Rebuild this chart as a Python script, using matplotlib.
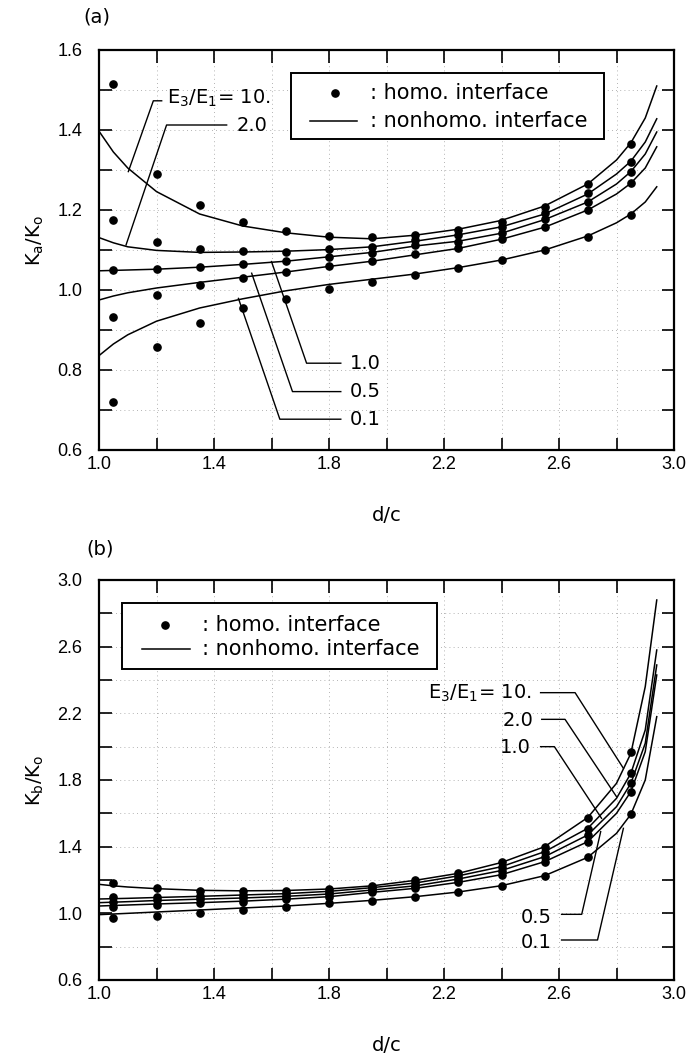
import matplotlib
matplotlib.use("Agg")
import matplotlib.pyplot as plt
from matplotlib.ticker import MultipleLocator, FuncFormatter
from matplotlib.patches import Rectangle

# ---------------- data ----------------
ratios = ["10.", "2.0", "1.0", "0.5", "0.1"]
legend_labels = [": homo. interface", ": nonhomo. interface"]

pts_x = [1.05, 1.2, 1.35, 1.5, 1.65, 1.8, 1.95, 2.1, 2.25, 2.4, 2.55, 2.7, 2.85]
curve_x = [1.0, 1.05, 1.1, 1.2, 1.35, 1.5, 1.65, 1.8, 1.95, 2.1, 2.25, 2.4,
           2.55, 2.7, 2.8, 2.85, 2.9, 2.94]

# (a) K_a/K_o -- homogeneous interface (points)
a_pts_10 = [1.514, 1.290, 1.212, 1.169, 1.147, 1.136, 1.133, 1.138, 1.150, 1.171, 1.208, 1.264, 1.365]
a_pts_2 = [1.174, 1.119, 1.102, 1.097, 1.095, 1.103, 1.108, 1.125, 1.138, 1.158, 1.192, 1.242, 1.321]
a_pts_1 = [1.049, 1.052, 1.057, 1.064, 1.072, 1.083, 1.093, 1.112, 1.121, 1.142, 1.177, 1.221, 1.296]
a_pts_05 = [0.933, 0.988, 1.012, 1.031, 1.045, 1.060, 1.072, 1.089, 1.104, 1.128, 1.158, 1.200, 1.267]
a_pts_01 = [0.719, 0.858, 0.917, 0.954, 0.978, 1.002, 1.021, 1.038, 1.056, 1.075, 1.100, 1.133, 1.188]

# (a) nonhomogeneous interface (curves)
a_cur_10 = [1.397, 1.345, 1.305, 1.246, 1.190, 1.160, 1.143, 1.132, 1.128, 1.137, 1.152, 1.174,
            1.210, 1.265, 1.325, 1.368, 1.430, 1.510]
a_cur_2 = [1.131, 1.118, 1.108, 1.099, 1.094, 1.095, 1.097, 1.101, 1.108, 1.122, 1.138, 1.158,
           1.190, 1.240, 1.290, 1.322, 1.370, 1.428]
a_cur_1 = [1.048, 1.049, 1.050, 1.052, 1.057, 1.064, 1.072, 1.083, 1.094, 1.110, 1.122, 1.142,
           1.176, 1.220, 1.265, 1.296, 1.340, 1.395]
a_cur_05 = [0.975, 0.985, 0.993, 1.005, 1.019, 1.032, 1.045, 1.059, 1.072, 1.088, 1.104, 1.127,
            1.157, 1.200, 1.240, 1.267, 1.305, 1.358]
a_cur_01 = [0.836, 0.865, 0.888, 0.922, 0.955, 0.978, 0.998, 1.014, 1.027, 1.040, 1.056, 1.075,
            1.100, 1.135, 1.168, 1.190, 1.220, 1.258]

# (b) K_b/K_o -- homogeneous interface (points)
b_pts_10 = [1.184, 1.152, 1.136, 1.132, 1.134, 1.144, 1.166, 1.200, 1.240, 1.306, 1.400, 1.574, 1.970]
b_pts_2 = [1.100, 1.100, 1.106, 1.110, 1.116, 1.130, 1.154, 1.180, 1.224, 1.280, 1.370, 1.504, 1.844]
b_pts_1 = [1.070, 1.080, 1.086, 1.090, 1.100, 1.114, 1.140, 1.164, 1.206, 1.256, 1.340, 1.470, 1.780]
b_pts_05 = [1.040, 1.050, 1.060, 1.070, 1.084, 1.100, 1.126, 1.150, 1.186, 1.230, 1.310, 1.430, 1.730]
b_pts_01 = [0.970, 0.986, 1.004, 1.020, 1.036, 1.060, 1.076, 1.100, 1.128, 1.166, 1.226, 1.336, 1.594]

# (b) nonhomogeneous interface (curves)
b_cur_10 = [1.174, 1.165, 1.158, 1.148, 1.138, 1.135, 1.137, 1.146, 1.165, 1.198, 1.240, 1.305,
            1.400, 1.575, 1.780, 1.960, 2.360, 2.880]
b_cur_2 = [1.086, 1.088, 1.090, 1.095, 1.102, 1.110, 1.118, 1.132, 1.154, 1.182, 1.225, 1.280,
           1.370, 1.510, 1.690, 1.840, 2.100, 2.580]
b_cur_1 = [1.064, 1.067, 1.070, 1.077, 1.085, 1.092, 1.102, 1.116, 1.140, 1.165, 1.206, 1.257,
           1.340, 1.470, 1.640, 1.780, 2.020, 2.490]
b_cur_05 = [1.044, 1.047, 1.050, 1.056, 1.064, 1.073, 1.085, 1.100, 1.126, 1.150, 1.186, 1.232,
            1.310, 1.430, 1.600, 1.730, 1.970, 2.430]
b_cur_01 = [0.992, 0.996, 1.000, 1.008, 1.020, 1.032, 1.044, 1.060, 1.078, 1.100, 1.128, 1.166,
            1.226, 1.336, 1.480, 1.594, 1.800, 2.180]

a_points = [a_pts_10, a_pts_2, a_pts_1, a_pts_05, a_pts_01]
a_curves = [a_cur_10, a_cur_2, a_cur_1, a_cur_05, a_cur_01]
b_points = [b_pts_10, b_pts_2, b_pts_1, b_pts_05, b_pts_01]
b_curves = [b_cur_10, b_cur_2, b_cur_1, b_cur_05, b_cur_01]

# ---------------- style ----------------
TXT = ["DejaVu Sans"]
NUM = ["Liberation Sans", "DejaVu Sans"]
plt.rcParams["font.family"] = NUM
plt.rcParams["mathtext.fontset"] = "dejavusans"

fig = plt.figure(figsize=(6.89, 10.55), dpi=100)
W, H = 689.0, 1055.0
ax_a = fig.add_axes([99 / W, 1 - 450 / H, 575 / W, 400 / H])
ax_b = fig.add_axes([99 / W, 1 - 980 / H, 575 / W, 400 / H])

LW = 1.1
MS = 5.2


def fmt_every(step, first):
    def f(v, pos):
        k = round((v - first) / step)
        if k % 2 == 0:
            return f"{v:.1f}"
        return ""
    return FuncFormatter(f)


def style_axes(ax, ylim, ystep, ylabel, ylab_y):
    ax.set_xlim(1.0, 3.0)
    ax.set_ylim(*ylim)
    ax.xaxis.set_major_locator(MultipleLocator(0.2))
    ax.xaxis.set_major_formatter(fmt_every(0.2, 1.0))
    ax.yaxis.set_major_locator(MultipleLocator(ystep))
    ax.yaxis.set_major_formatter(fmt_every(ystep, ylim[0]))
    ax.tick_params(direction="in", length=9, width=1.2, top=True, right=True,
                   labelsize=13)
    ax.tick_params(axis="x", pad=4)
    ax.tick_params(axis="y", pad=12)
    for s in ax.spines.values():
        s.set_linewidth(1.6)
    ax.grid(True, linestyle=(0, (1, 4)), color="#9a9a9a", linewidth=0.6)
    ax.set_axisbelow(True)
    ax.set_xlabel("d/c", fontsize=14, family=TXT, labelpad=24)
    ax.set_ylabel(ylabel, fontsize=14, family=TXT)
    ax.yaxis.set_label_coords(-0.092, ylab_y)


def legend(ax, box, dot_x, line_x, text_x, rows):
    x0, x1, y0, y1 = box
    ax.add_patch(Rectangle((x0, y0), x1 - x0, y1 - y0, transform=ax.transAxes,
                           facecolor="white", edgecolor="black", linewidth=1.4,
                           zorder=6))
    ax.plot([dot_x], [rows[0]], "o", color="black", markersize=MS,
            transform=ax.transAxes, zorder=7, clip_on=False)
    ax.plot(line_x, [rows[1], rows[1]], color="black", linewidth=LW,
            transform=ax.transAxes, zorder=7, clip_on=False)
    for lab, yy in zip(legend_labels, rows):
        ax.text(text_x, yy, lab, transform=ax.transAxes, fontsize=15,
                family=TXT, va="center", ha="left", zorder=7)


# ---------------- panel (a) ----------------
style_axes(ax_a, (0.6, 1.6), 0.1, r"$\mathregular{K_a/K_o}$", 0.525)
for pts, cur in zip(a_points, a_curves):
    ax_a.plot(curve_x, cur, color="black", linewidth=LW, zorder=3)
    ax_a.plot(pts_x, pts, "o", color="black", markersize=MS, zorder=4)
legend(ax_a, (0.334, 0.878, 0.7775, 0.9425), 0.4104, [0.367, 0.4487], 0.4713,
       (0.8925, 0.8225))

lk = dict(color="black", linewidth=1.0, zorder=2)
tk = dict(fontsize=14, family=TXT, va="center")
# leaders, panel (a)
ax_a.plot([1.218, 1.189, 1.102], [1.473, 1.473, 1.296], **lk)
ax_a.text(1.235, 1.478, r"E$_3$/E$_1$= 10.", ha="left", **tk)
ax_a.plot([1.444, 1.235, 1.094], [1.4125, 1.4125, 1.1125], **lk)
ax_a.text(1.479, 1.412, ratios[1], ha="left", **tk)
ax_a.plot([1.600, 1.722, 1.841], [1.071, 0.817, 0.817], **lk)
ax_a.text(1.872, 0.817, ratios[2], ha="left", **tk)
ax_a.plot([1.531, 1.673, 1.841], [1.042, 0.746, 0.746], **lk)
ax_a.text(1.872, 0.746, ratios[3], ha="left", **tk)
ax_a.plot([1.485, 1.629, 1.841], [0.979, 0.677, 0.677], **lk)
ax_a.text(1.872, 0.677, ratios[4], ha="left", **tk)

# ---------------- panel (b) ----------------
style_axes(ax_b, (0.6, 3.0), 0.2, r"$\mathregular{K_b/K_o}$", 0.5)
for pts, cur in zip(b_points, b_curves):
    ax_b.plot(curve_x, cur, color="black", linewidth=LW, zorder=3)
    ax_b.plot(pts_x, pts, "o", color="black", markersize=MS, zorder=4)
legend(ax_b, (0.04, 0.588, 0.7775, 0.9425), 0.1148, [0.0743, 0.1583], 0.1786,
       (0.8875, 0.8275))

ax_b.plot([2.536, 2.656, 2.824], [2.324, 2.324, 1.87], **lk)
ax_b.text(2.505, 2.32, r"E$_3$/E$_1$= 10.", ha="right", **tk)
ax_b.plot([2.540, 2.621, 2.800], [2.164, 2.164, 1.70], **lk)
ax_b.text(2.510, 2.16, ratios[1], ha="right", **tk)
ax_b.plot([2.536, 2.584, 2.748], [2.0, 2.0, 1.57], **lk)
ax_b.text(2.500, 1.995, ratios[2], ha="right", **tk)
ax_b.plot([2.609, 2.679, 2.745], [0.994, 0.994, 1.49], **lk)
ax_b.text(2.575, 0.975, ratios[3], ha="right", **tk)
ax_b.plot([2.609, 2.734, 2.824], [0.84, 0.84, 1.51], **lk)
ax_b.text(2.575, 0.825, ratios[4], ha="right", **tk)

fig.text(97 / W, 1 - 17 / H, "(a)", fontsize=14, family=TXT, ha="center", va="center")
fig.text(100 / W, 1 - 549 / H, "(b)", fontsize=14, family=TXT, ha="center", va="center")

fig.savefig("out.png", dpi=100)
